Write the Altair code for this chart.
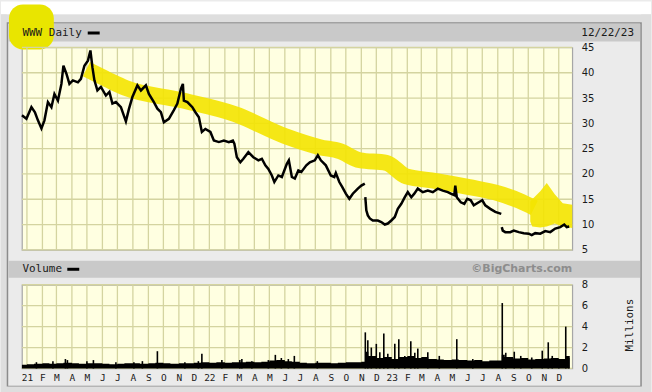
import altair as alt
import pandas as pd

# ---------------- data ----------------
# price, segment 1 (Dec 2020 - Nov 8 2022)
p1_dates = ["2020-12-22","2020-12-31","2021-01-10","2021-01-17","2021-01-23","2021-01-30","2021-02-05","2021-02-12",
            "2021-02-19","2021-02-25","2021-03-04","2021-03-11","2021-03-15","2021-03-21","2021-03-27","2021-04-03",
            "2021-04-13","2021-04-19","2021-04-26","2021-05-03","2021-05-08","2021-05-12","2021-05-16","2021-05-22",
            "2021-05-29","2021-06-08","2021-06-15","2021-06-21","2021-06-28","2021-07-08","2021-07-18","2021-07-24",
            "2021-07-31","2021-08-10","2021-08-17","2021-08-27","2021-09-02","2021-09-12","2021-09-19","2021-09-26",
            "2021-10-02","2021-10-12","2021-10-22","2021-10-29","2021-11-05","2021-11-09","2021-11-11","2021-11-18",
            "2021-11-28","2021-12-04","2021-12-11","2021-12-17","2021-12-24","2022-01-03","2022-01-10","2022-01-20",
            "2022-01-30","2022-02-09","2022-02-17","2022-02-20","2022-02-25","2022-03-04","2022-03-10","2022-03-20",
            "2022-03-30","2022-04-09","2022-04-16","2022-04-23","2022-04-29","2022-05-06","2022-05-11","2022-05-19",
            "2022-05-26","2022-06-05","2022-06-09","2022-06-15","2022-06-21","2022-06-28","2022-07-04","2022-07-14",
            "2022-07-21","2022-07-31","2022-08-06","2022-08-12","2022-08-22","2022-09-01","2022-09-08","2022-09-11",
            "2022-09-18","2022-09-24","2022-10-01","2022-10-08","2022-10-15","2022-10-25","2022-11-01","2022-11-08"]
p1_values = [31.6,30.9,33.2,32.2,30.6,29.0,30.6,34.2,33.2,35.8,34.5,37.8,41.4,39.8,37.8,38.5,
             38.1,38.8,41.4,42.4,44.4,41.1,38.5,36.5,37.2,35.5,36.2,33.9,34.2,33.2,30.4,32.8,
             35.2,37.5,36.5,37.5,35.8,34.2,32.9,32.2,30.2,30.9,32.6,33.9,36.8,37.8,34.5,34.2,
             33.2,32.2,31.2,28.3,28.9,28.3,26.6,26.3,26.6,26.3,26.6,26.0,23.3,22.3,23.0,24.3,
             23.3,22.7,23.0,21.7,21.0,19.7,18.4,19.7,19.4,22.0,22.7,19.4,19.1,20.7,20.4,21.7,
             22.3,22.7,23.7,22.7,21.7,19.7,19.4,20.2,18.4,17.4,16.1,15.1,16.1,17.1,17.7,18.1]
# price, segment 2 (Nov 9 2022 - Aug 8 2023)
p2_dates = ["2022-11-09","2022-11-11","2022-11-14","2022-11-18","2022-11-24","2022-12-04","2022-12-11","2022-12-18",
            "2022-12-24","2022-12-31","2023-01-07","2023-01-13","2023-01-20","2023-01-27","2023-02-02","2023-02-09",
            "2023-02-15","2023-02-22","2023-03-04","2023-03-14","2023-03-24","2023-04-03","2023-04-13","2023-04-23",
            "2023-04-29","2023-05-06","2023-05-08","2023-05-11","2023-05-19","2023-05-26","2023-06-01","2023-06-08",
            "2023-06-14","2023-06-24","2023-07-01","2023-07-07","2023-07-17","2023-07-27","2023-08-08"]
p2_values = [15.4,12.8,11.8,11.2,10.8,10.8,10.5,10.0,10.2,10.8,11.5,13.1,14.1,15.4,16.4,15.4,
             16.1,17.1,16.4,16.7,16.4,17.1,16.7,16.4,16.1,15.8,17.7,15.4,14.4,14.1,15.1,14.8,
             13.8,14.4,14.8,13.8,13.1,12.5,12.1]
# price, segment 3 (Aug 9 2023 - Dec 22 2023)
p3_dates = ["2023-08-09","2023-08-11","2023-08-16","2023-08-26","2023-09-02","2023-09-12","2023-09-22","2023-10-02",
            "2023-10-08","2023-10-15","2023-10-25","2023-11-04","2023-11-14","2023-11-24","2023-12-04","2023-12-12",
            "2023-12-17","2023-12-22"]
p3_values = [9.5,8.8,8.5,8.5,8.8,8.5,8.3,8.2,7.9,8.3,8.2,8.7,8.5,9.2,9.5,10.0,9.5,9.6]

# volume (millions): general level, semi-monthly
vb_dates = ["2020-12-22","2021-01-01","2021-01-15","2021-02-01","2021-02-15","2021-03-01","2021-03-15","2021-04-01",
            "2021-04-15","2021-05-01","2021-05-15","2021-06-01","2021-06-15","2021-07-01","2021-07-15","2021-08-01",
            "2021-08-15","2021-09-01","2021-09-15","2021-10-01","2021-10-15","2021-11-01","2021-11-15","2021-12-01",
            "2021-12-15","2022-01-01","2022-01-15","2022-02-01","2022-02-15","2022-03-01","2022-03-15","2022-04-01",
            "2022-04-15","2022-05-01","2022-05-15","2022-06-01","2022-06-15","2022-07-01","2022-07-15","2022-08-01",
            "2022-08-15","2022-09-01","2022-09-15","2022-10-01","2022-10-15","2022-11-01","2022-11-09","2022-11-15",
            "2022-12-01","2022-12-15","2023-01-01","2023-01-15","2023-02-01","2023-02-15","2023-03-01","2023-03-15",
            "2023-04-01","2023-04-15","2023-05-01","2023-05-15","2023-06-01","2023-06-15","2023-07-01","2023-07-15",
            "2023-08-01","2023-08-09","2023-08-15","2023-09-01","2023-09-15","2023-10-01","2023-10-15","2023-11-01",
            "2023-11-15","2023-12-01","2023-12-15","2023-12-23"]
vb_values = [0.35,0.4,0.45,0.5,0.45,0.5,0.55,0.5,
             0.45,0.5,0.5,0.45,0.4,0.45,0.5,0.5,
             0.45,0.5,0.55,0.5,0.45,0.5,0.5,0.55,
             0.6,0.55,0.6,0.55,0.6,0.6,0.65,0.6,
             0.65,0.75,0.8,0.7,0.65,0.55,0.5,0.55,
             0.55,0.5,0.55,0.6,0.6,0.65,1.6,1.2,
             1.0,1.1,0.9,1.1,1.2,1.0,1.1,0.9,
             0.85,0.8,0.85,0.8,0.75,0.8,0.7,0.75,
             0.75,1.3,1.1,0.95,1.0,0.85,0.9,0.95,
             1.0,0.9,1.2,1.0]
# volume spikes (millions)
vs_dates = ["2021-01-20","2021-02-22","2021-03-19","2021-03-23","2021-05-01","2021-05-14","2021-06-28","2021-08-03",
            "2021-08-20","2021-09-19","2021-11-13","2021-12-10","2021-12-17","2022-01-26","2022-03-03","2022-03-07",
            "2022-03-27","2022-04-29","2022-05-13","2022-05-25","2022-06-08","2022-06-20","2022-08-05",
            "2022-11-09","2022-11-14","2022-11-21","2022-12-01","2022-12-08","2022-12-16","2022-12-24",
            "2023-01-07","2023-01-15","2023-01-27","2023-02-08","2023-02-16","2023-02-22","2023-03-14","2023-04-06",
            "2023-05-11","2023-06-12","2023-08-10","2023-08-17","2023-09-03","2023-09-16","2023-10-08","2023-10-29",
            "2023-11-10","2023-11-18","2023-12-01","2023-12-15","2023-12-21"]
vs_values = [0.6,0.7,0.9,0.8,0.7,0.8,0.6,0.6,
             0.7,1.65,0.6,0.7,1.4,0.8,0.8,0.9,
             0.7,0.8,1.3,1.0,0.9,1.2,0.7,
             3.45,2.7,2.0,2.35,1.55,3.35,1.4,
             2.35,2.8,1.2,2.6,1.5,1.9,1.55,1.2,
             2.8,0.9,6.25,1.5,1.6,1.2,1.05,1.7,
             2.5,1.2,0.9,4.0,1.0]

# hand-drawn yellow highlighter (date, price)
hl_dates = ["2021-04-30","2021-06-12","2021-07-17","2021-11-04","2022-02-22","2022-06-01","2022-08-10","2022-09-19",
            "2022-10-29","2022-12-21","2023-01-30","2023-03-31","2023-06-05","2023-08-04","2023-09-13","2023-10-13"]
hl_values = [40.7,38.6,37.0,34.6,31.8,27.5,25.3,24.5,22.7,22.2,19.5,18.6,17.4,16.1,14.7,13.3]
ar_dates = ["2023-10-05","2023-10-09","2023-10-25","2023-11-07","2023-11-23","2023-12-09","2023-12-28"]
ar_top = [14.5,15.0,16.6,18.2,16.0,14.2,13.9]
ar_bottom = [10.6,9.6,9.4,9.6,10.2,9.6,9.3]

price_ticks = [5, 10, 15, 20, 25, 30, 35, 40, 45]
volume_ticks = [0, 2, 4, 6, 8]
month_starts = pd.date_range("2021-01-01", "2023-12-01", freq="MS")

# ---------------- frames ----------------
rows = []
for seg, (ds, vs) in enumerate([(p1_dates, p1_values), (p2_dates, p2_values), (p3_dates, p3_values)]):
    for d, v in zip(ds, vs):
        rows.append({"date": pd.Timestamp(d), "price": v, "seg": seg})
price_df = pd.DataFrame(rows)
hl_df = pd.DataFrame([{"date": pd.Timestamp(d), "price": v} for d, v in zip(hl_dates, hl_values)])
ar_df = pd.DataFrame([{"date": pd.Timestamp(d), "price": t, "price2": b} for d, t, b in zip(ar_dates, ar_top, ar_bottom)])
vb_df = pd.DataFrame([{"date": pd.Timestamp(d), "vol": v} for d, v in zip(vb_dates, vb_values)])
vs_df = pd.DataFrame([{"date": pd.Timestamp(d), "vol": v} for d, v in zip(vs_dates, vs_values)])
mon_df = pd.DataFrame({"date": month_starts})
pt_df = pd.DataFrame({"price": price_ticks})
vt_df = pd.DataFrame({"vol": volume_ticks})
one = pd.DataFrame({"a": [0]})

# ---------------- style ----------------
GRID = "#d4d4a0"
INNER = "#ebebeb"
OUTER = "#dedede"
HEADER = "#c9c9c9"
YEL = "#f4e400"
MONO = "DejaVu Sans Mono"
SANS = "DejaVu Sans"
W, H1, H2 = 552, 203, 84

x_dom = alt.Scale(domain=[alt.DateTime(year=2020, month=12, date=22),
                          alt.DateTime(year=2023, month=12, date=28)], nice=False, padding=0)
month_step = {"interval": "month", "step": 1}

def px_rect(x, x2, y, y2, **kw):
    return alt.Chart(one).mark_rect(**kw).encode(
        x=alt.value(x), x2=alt.value(x2), y=alt.value(y), y2=alt.value(y2))

def px_text(txt, x, y, **kw):
    return alt.Chart(pd.DataFrame({"t": [txt]})).mark_text(**kw).encode(
        text="t:N", x=alt.value(x), y=alt.value(y))

px_axis = alt.Axis(title=None, labels=False, ticks=False, domain=False, grid=False, tickCount=month_step)
def X():
    return alt.X("date:T", scale=x_dom, axis=px_axis)

py_axis = alt.Axis(title=None, orient="right", values=price_ticks, ticks=False, tickSize=0, domain=False,
                   labelPadding=9, labelFont=SANS, labelFontSize=10, labelColor="#1a1a1a", grid=False)
py_scale = alt.Scale(domain=[5, 45], nice=False, zero=False)
def PY(field="price"):
    return alt.Y(f"{field}:Q", scale=py_scale, axis=py_axis)

# ---------------- price panel ----------------
deco_top = [
    px_rect(-21, 631, -46, -33, color="white"),
    px_rect(-21, 631, -33, -25, color=OUTER),
    px_rect(-21, -15, -33, 346, color=OUTER),
    px_rect(621, 631, -33, 346, color=OUTER),
    px_rect(-14.5, 621, -24.5, 340, fillOpacity=0, stroke="#8c8c8c", strokeWidth=1.5),
    px_rect(-13.5, 620, -24, -6, color=HEADER),
    px_rect(-13, 32, -43, 2, color="#e9e500", cornerRadius=14),
    px_text("WWW Daily", 0.5, -14.5, align="left", baseline="middle", font=MONO, fontSize=11, color="#1a1a1a"),
    px_rect(66, 78, -16, -13, color="black"),
    px_text("12/22/23", 614, -14.5, align="right", baseline="middle", font=MONO, fontSize=11, color="#1a1a1a"),
]
grid_v1 = alt.Chart(mon_df).mark_rule(color=GRID, strokeWidth=1.3).encode(x=X())
grid_h1 = alt.Chart(pt_df).mark_rule(color=GRID, strokeWidth=1.3).encode(y=PY())

band = alt.Chart(hl_df).mark_line(color=YEL, strokeWidth=16, opacity=0.9, strokeCap="butt",
                                  strokeJoin="round", interpolate="monotone").encode(x=X(), y=PY())
arrow = alt.Chart(ar_df).mark_area(color=YEL, opacity=0.9).encode(x=X(), y=PY(), y2="price2:Q")
line = alt.Chart(price_df).mark_line(color="black", strokeWidth=2.5, strokeJoin="miter").encode(
    x=X(), y=PY(), detail="seg:N")

price_panel = alt.layer(*deco_top, grid_v1, grid_h1, band, arrow, line).properties(width=W, height=H1)

# ---------------- volume panel ----------------
vx_axis = alt.Axis(title=None, orient="bottom", tickCount=month_step,
                   labelExpr="month(datum.value) == 0 ? timeFormat(datum.value, '%y') : slice(timeFormat(datum.value, '%b'), 0, 1)",
                   labelFont=MONO, labelFontSize=9.5, labelColor="#1a1a1a", labelPadding=9, labelBaseline="middle",
                   labelOverlap=False, labelFlush=False, ticks=False, tickSize=0, domain=False, grid=False)
vy_axis = alt.Axis(title="Millions", orient="right", values=volume_ticks, ticks=False, tickSize=0, domain=False,
                   labelPadding=9, labelFont=SANS, labelFontSize=10, labelColor="#1a1a1a",
                   titleFont=MONO, titleFontSize=11, titleFontWeight="normal", titleColor="#1a1a1a",
                   titleAngle=270, titleX=57, titleY=40, titleAlign="center", titleBaseline="middle", grid=False)
vy_scale = alt.Scale(domain=[0, 8], nice=False)
def VX():
    return alt.X("date:T", scale=x_dom, axis=vx_axis)
def VY():
    return alt.Y("vol:Q", scale=vy_scale, axis=vy_axis)

deco_vol = [
    px_rect(-21, 631, 102, 108, color=OUTER),
    px_rect(-13.5, 620, -24, -7, color=HEADER),
    px_text("Volume", 0.5, -15.5, align="left", baseline="middle", font=MONO, fontSize=11, color="#1a1a1a"),
    px_rect(45.5, 57.5, -17, -14, color="black"),
    px_text("\u00a9BigCharts.com", 552, -15.5, align="right", baseline="middle", font=SANS, fontSize=11,
            fontWeight="bold", color="#8d8d8d"),
]
grid_v2 = alt.Chart(mon_df).mark_rule(color=GRID, strokeWidth=1.3).encode(x=VX())
grid_h2 = alt.Chart(vt_df).mark_rule(color=GRID, strokeWidth=1.3).encode(y=VY())
vbase = alt.Chart(vb_df).mark_area(color="black", interpolate="step-after").encode(x=VX(), y=VY())
vspk = alt.Chart(vs_df).mark_bar(color="black", width=1.6).encode(x=VX(), y=VY())

volume_panel = alt.layer(*deco_vol, grid_v2, grid_h2, vbase, vspk).properties(width=W, height=H2)

chart = alt.vconcat(price_panel, volume_panel, spacing=35, bounds="flush").properties(
    padding=0, background=INNER
).configure_view(fill="#ffffe1", stroke="#a6a6a6", strokeWidth=1.2)

chart.save("out.html", embed_options={"renderer": "svg", "actions": False})
